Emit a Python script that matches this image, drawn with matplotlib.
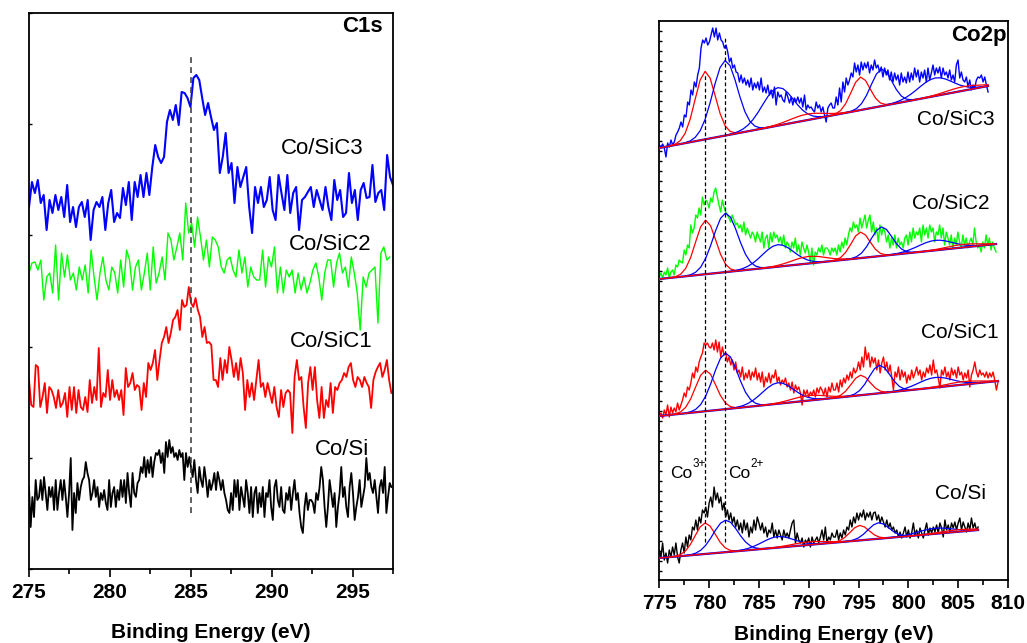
import numpy as np
import matplotlib
matplotlib.use('Agg')
import matplotlib.pyplot as plt

plt.rcParams['font.family'] = ['Liberation Sans', 'DejaVu Sans']

# ---------------------------------------------------------------- C1s panel
c1s_ev_range = [275.0, 297.5]
c1s_ref_ev = 285.0
c1s_ticks = [275, 280, 285, 290, 295]

c1s_sic3 = [362, 387, 376, 389, 366, 374, 339, 369, 356, 374,
            359, 372, 352, 384, 347, 362, 342, 362, 367, 352,
            369, 329, 359, 367, 362, 372, 339, 366, 379, 347,
            356, 351, 381, 364, 387, 349, 387, 372, 394, 372,
            396, 374, 402, 424, 412, 406, 412, 447, 459, 449,
            464, 444, 477, 476, 471, 462, 491, 494, 489, 471,
            454, 466, 452, 439, 446, 396, 412, 436, 396, 406,
            366, 402, 382, 392, 402, 362, 336, 382, 366, 382,
            362, 369, 392, 359, 349, 394, 376, 359, 394, 356,
            376, 382, 339, 369, 372, 377, 382, 362, 379, 369,
            359, 382, 362, 349, 389, 369, 379, 352, 356, 396,
            366, 379, 349, 379, 386, 371, 372, 404, 367, 376,
            379, 359, 414, 392, 384]

c1s_sic2 = [296, 306, 307, 299, 309, 269, 292, 296, 276, 324,
            269, 316, 292, 314, 289, 296, 279, 302, 289, 304,
            276, 319, 292, 269, 296, 312, 289, 279, 302, 296,
            276, 309, 282, 319, 309, 279, 302, 309, 279, 296,
            316, 279, 322, 286, 296, 312, 289, 336, 329, 309,
            322, 336, 309, 366, 336, 346, 322, 352, 332, 309,
            329, 302, 332, 329,
            322, 302, 296, 309, 312, 299, 292, 319, 296, 312,
            282, 302, 292, 289, 289, 319, 282, 312, 302, 322,
            276, 302, 276, 299, 292, 299, 276, 296, 279, 292,
            276, 286, 299, 306, 292, 269, 296, 309, 309, 282,
            306, 316, 296, 302, 282, 312, 296, 276, 239, 292,
            282, 296, 299, 302, 246, 316, 322, 309, 312]

c1s_sic1 = [189, 164, 162, 204, 202, 162, 172, 186, 156, 182,
            179, 172, 161, 179, 162, 166, 176, 152, 182, 159,
            182, 156, 179, 162, 159, 172, 157, 189, 166, 182,
            169, 221, 162, 176, 172, 199, 169, 189, 172, 179,
            169, 179, 154, 201, 182, 186, 196, 179, 184, 182,
            159, 186, 172, 206, 199, 206, 219, 189, 209, 226,
            232, 242, 226, 236, 249, 252, 259, 239, 269, 262,
            264, 282, 266, 262, 271, 259, 252, 232, 242, 226,
            227, 224, 189,
            189, 182, 211, 189, 209, 196, 222, 209, 192, 206,
            189, 211, 196, 159, 189, 172, 186, 169, 189, 209,
            182, 186, 172, 186, 176, 166, 182, 162, 152, 179,
            162, 176, 179, 176, 136, 192, 209, 189, 192, 162,
            141, 186, 202, 179, 202, 169, 151, 182, 151, 169,
            162, 186, 156, 182, 179, 186, 189, 196, 192, 202,
            206, 189, 182, 192, 189, 182, 192, 186, 182, 161,
            189, 197, 202, 206, 192, 199, 209, 189, 176]

c1s_si = [82, 42, 72, 52, 89, 69, 72, 89, 69, 92,
          76, 59, 82, 72, 82, 59, 89, 59, 76, 89,
          69, 89, 72, 52, 76, 111, 39, 76, 56, 86,
          69, 82, 89, 92, 107, 96, 89, 69, 76, 89,
          72, 82, 62, 76, 69, 79, 66, 59, 89, 62,
          76, 82, 62, 79, 69, 89, 72, 89, 66, 96,
          76, 62, 96, 76, 72, 86, 89, 102, 96, 112,
          92, 109, 96, 112, 92, 107, 116, 114, 119, 106,
          116, 96, 127, 112, 129, 116, 122, 112, 116, 109,
          119, 112, 116, 89, 116, 102, 112, 102, 92, 109,
          89, 76, 102, 89, 82, 102, 89, 72, 89, 79,
          86, 96, 79, 97, 89, 79, 89, 76, 69, 59,
          56, 76, 59, 89, 72, 89, 59, 82, 72, 62,
          89, 76, 56, 82, 52, 76, 82, 56, 76, 62,
          82, 52, 76, 72, 89, 62, 49, 82, 89, 69,
          62, 82, 59, 56, 76, 69, 82, 59, 76, 89,
          69, 76, 56, 42, 36, 62, 76, 59, 69, 69,
          66, 56, 76, 69, 82, 102, 89, 62, 42, 62,
          89, 76, 62, 76, 42, 62, 76, 102, 72, 82,
          62, 52, 82, 96, 76, 49, 62, 72, 89, 62,
          72, 82, 111, 89, 96, 82, 76, 89, 72, 56,
          82, 89, 76, 102, 56, 72, 86, 82]
c1s_si_end = 297.4

c1s_labels = ['Co/SiC3', 'Co/SiC2', 'Co/SiC1', 'Co/Si']
c1s_label_ev = [290.6, 291.05, 291.1, 292.7]
c1s_label_y = [415, 319, 222, 114]

# ---------------------------------------------------------------- Co2p panel
co2p_ticks = [775, 780, 785, 790, 795, 800, 805, 810]
co2p_ref_ev = [779.6, 781.6]

co2p_sic3 = [435, 433, 436, 432, 423, 437, 433, 440, 435, 438,
             445, 448, 452, 458, 453, 465, 463, 478, 475, 490,
             485, 498, 493, 505, 512, 532, 540, 537, 542, 535,
             538, 545, 552, 543, 552, 540, 547, 540, 538, 532,
             535, 528, 518, 522, 512, 515, 508, 507, 498, 505,
             497, 502, 495, 500, 493, 502, 490, 497, 492, 498,
             490, 502, 488, 493, 487, 495, 485, 490, 482, 493,
             475, 488, 483, 485, 480, 478, 488, 483, 477, 483,
             475, 482, 478, 483, 477, 482, 473, 485, 470, 475,
             472, 473, 470, 468, 478, 472, 475, 468, 473, 465,
             458, 472, 475, 477, 472,
             472, 483, 475, 492, 478, 498, 488, 502, 495, 500,
             507, 503, 517, 508, 515, 505, 518, 510, 517, 512,
             518, 507, 515, 510, 520, 512, 515, 508, 513, 503,
             512, 505, 510, 500, 508, 498, 507, 500, 505, 495,
             507, 498, 503, 497, 508, 498, 507, 500, 512, 503,
             510, 498, 508, 502, 510, 498, 512, 500, 507, 515,
             505, 512, 507, 513, 502, 512, 505, 508, 502, 510,
             500, 505, 498, 515, 520, 502, 508, 500, 498, 503,
             493, 500, 490, 495, 492, 500, 503, 502, 505, 498,
             503, 495, 488]
co2p_sic3_range = [775.0, 808.0]

co2p_sic2 = [303, 307, 302, 308, 305, 312, 302, 308, 310, 305,
             315, 313, 320, 318, 317, 330, 325, 335, 332, 355,
             347, 352, 365, 362, 372, 365, 383, 375, 380, 378,
             372, 382, 378, 388, 392, 383, 375, 368, 380, 373,
             368, 365, 362, 358, 365, 360, 355, 357, 352, 355,
             348, 358, 345, 352, 347, 342, 348, 345, 338, 348,
             343, 338, 348, 332, 342, 345, 332, 347, 338, 348,
             342, 345, 338, 343, 335, 345, 332, 338, 335, 328,
             338, 332, 342, 328, 335, 325, 338, 332, 327, 335,
             328, 318, 332, 315, 328, 325, 332, 328, 335, 325,
             332, 332, 330, 325, 332, 328,
             332, 325, 335, 328, 338, 332, 342, 335, 345, 352,
             348, 358, 352, 355, 348, 362, 352, 358, 365, 352,
             360, 365, 348, 358, 345, 352, 338, 355, 345, 352,
             348, 338, 345, 332, 342, 335, 345, 332, 342, 335,
             338, 332, 342, 345, 335, 348, 338, 352, 342, 348,
             345, 352, 338, 355, 345, 352, 342, 355, 348, 352,
             338, 348, 345, 355, 342, 352, 335, 348, 342, 335,
             345, 332, 342, 335, 348, 338, 332, 345, 335, 342,
             332, 338, 342, 335, 352, 338, 332, 335, 328, 338,
             332, 345, 335, 342, 330, 338, 332, 328]
co2p_sic2_range = [775.0, 808.8]

co2p_sic1 = [165, 167, 162, 170, 165, 175, 163, 173, 167, 172,
             168, 177, 170, 175, 180, 187, 183, 193, 190, 197,
             207, 202, 213, 208, 218, 223, 227, 237, 235, 237,
             233, 232, 237, 230, 240, 228, 238, 223, 233, 225,
             227, 218, 223, 215, 220, 210, 218, 207, 210, 203,
             213, 200, 207, 202, 210, 200, 208, 203, 212, 200,
             207, 198, 208, 193, 203, 198, 207, 197, 205, 202,
             210, 198, 203, 195, 200, 197, 202, 193, 197, 190,
             198, 187, 195, 190, 193, 187, 175, 190, 185, 190,
             183, 188, 185, 190, 183, 192, 187, 193, 190, 185,
             192, 183, 193, 188, 197, 190,
             190, 197, 188, 200, 193, 202, 197, 205, 200, 208,
             202, 212, 207, 210, 218, 210, 223, 213, 233, 220,
             227, 213, 223, 217, 222, 210, 220, 207, 217, 223,
             210, 218, 207, 215, 203, 190, 208, 203, 213, 200,
             210, 203, 208, 197, 205, 200, 210, 202, 207, 213,
             205, 210, 200, 208, 203, 212, 207, 215, 205, 220,
             207, 210, 202, 192, 210, 205, 213, 203, 208, 200,
             212, 205, 210, 202, 213, 205, 208, 200, 207, 202,
             210, 193, 205, 210, 218, 208, 203, 210, 205, 207,
             203, 208, 202, 207, 203, 208, 200, 190, 198]
co2p_sic1_range = [775.0, 809.0]

co2p_si = [30, 23, 37, 20, 27, 17, 30, 23, 33, 25,
           37, 23, 17, 30, 37, 27, 43, 33, 45, 40,
           53, 50, 60, 50, 63, 57, 70, 67, 73, 63,
           77, 83, 73, 93, 80, 87, 77, 83, 70, 77,
           63, 70, 60, 67, 57, 63, 53, 60, 50, 57,
           47, 60, 50, 57, 43, 53, 47, 60, 50, 63,
           57, 50, 57, 47, 53, 43, 50, 47, 57, 43,
           50, 42, 50, 45, 40, 50, 43, 47, 42, 50,
           57, 60, 37, 47, 40, 37, 42, 33, 40, 37,
           42, 33, 43, 37, 40, 43, 37, 43, 50, 40,
           53, 37, 43, 40, 47, 43,
           43, 50, 40, 47, 42, 50, 45, 53, 50, 60,
           53, 63, 57, 67, 60, 67, 63, 70, 60, 67,
           63, 68, 60, 67, 68, 60, 65, 57, 63, 58,
           53, 60, 52, 57, 50, 53, 47, 50, 43, 48,
           42, 47, 53, 43, 50, 42, 47, 57, 45, 50,
           42, 52, 47, 42, 50, 57, 45, 52, 47, 53,
           48, 55, 47, 57, 52, 43, 60, 50, 55, 48,
           57, 52, 58, 50, 57, 62, 50, 58, 53, 48,
           57, 50, 62, 52, 57, 50, 53]
co2p_si_range = [775.0, 807.0]

# linear backgrounds (intensity at the two ends of each spectrum)
bg_sic3 = [432, 494]
bg_sic2 = [301, 336]
bg_sic1 = [164, 199]
bg_si = [22, 50]

# fitted component profiles, read on a 0.5 eV step (peak = 1)
prof_a = [0.003, 0.013, 0.049, 0.146, 0.339, 0.618, 0.887, 1.0, 0.887, 0.618, 0.339, 0.146, 0.049, 0.013, 0.003]
prof_b = [0.005, 0.017, 0.051, 0.127, 0.267, 0.476, 0.719, 0.921, 1.0, 0.921, 0.719, 0.476, 0.267, 0.127, 0.051, 0.017, 0.005]
prof_c = [0.006, 0.016, 0.039, 0.083, 0.161, 0.281, 0.444, 0.634, 0.816, 0.951, 1.0, 0.951, 0.816, 0.634, 0.444, 0.281, 0.161, 0.083, 0.039, 0.016, 0.006]
prof_d = [0.013, 0.030, 0.063, 0.12, 0.211, 0.339, 0.5, 0.678, 0.841, 0.958, 1.0, 0.958, 0.841, 0.678, 0.5, 0.339, 0.211, 0.12, 0.063, 0.030, 0.013]
prof_e = [0.006, 0.028, 0.101, 0.276, 0.564, 0.867, 1.0, 0.867, 0.564, 0.276, 0.101, 0.028, 0.006]
prof_f = [0.004, 0.018, 0.062, 0.169, 0.368, 0.641, 0.895, 1.0, 0.895, 0.641, 0.368, 0.169, 0.062, 0.018, 0.004]

peak_profiles = [prof_a, prof_b, prof_c, prof_d, prof_e, prof_f, prof_d, prof_d]
peak_colors = ['#ff0000', '#0000ff', '#0000ff', '#ff0000', '#ff0000', '#0000ff', '#0000ff', '#ff0000']

pk_ev_sic3 = [779.6, 781.6, 786.9, 789.8, 795.2, 797.3, 802.7, 805.5]
pk_h_sic3 = [68, 75, 38, 6, 33, 37, 18, 4]
pk_ev_sic2 = [779.65, 781.65, 786.9, 790.0, 795.2, 797.3, 802.7, 805.5]
pk_h_sic2 = [54, 59, 22, 7, 26, 29, 10, 3]
pk_ev_sic1 = [779.65, 781.65, 786.9, 790.0, 795.2, 797.1, 802.7, 805.5]
pk_h_sic1 = [41, 56, 21, 5, 20, 28, 10, 3]
pk_ev_si = [779.6, 781.65, 786.9, 790.0, 795.1, 797.0, 802.7, 805.0]
pk_h_si = [31, 32, 11, 3, 15, 16, 5.5, 2]

co2p_labels = ['Co/SiC3', 'Co/SiC2', 'Co/SiC1', 'Co/Si']
co2p_label_ev = [800.84, 800.34, 801.25, 802.65]
co2p_label_y = [455, 371, 242, 81]

# ---------------------------------------------------------------- figure
W, H = 1027, 643
fig = plt.figure(figsize=(W / 100, H / 100), dpi=100)

def px_axes(l, t, r, b):
    return fig.add_axes([l / W, 1 - b / H, (r - l) / W, (b - t) / H])

BOLD = dict(fontweight='bold')

# ---------------- left: C1s
ax1 = px_axes(29, 13, 393, 569)
series1 = [(c1s_sic3, '#0000ff', 1.5, c1s_ev_range[1]),
           (c1s_sic2, '#00ff00', 1.0, 297.3),
           (c1s_sic1, '#ff0000', 1.3, c1s_ev_range[1] - 0.1),
           (c1s_si, '#000000', 1.3, c1s_si_end)]
for vals, col, lw, end in series1:
    ev = np.linspace(c1s_ev_range[0], end, len(vals))
    ax1.plot(ev, vals, color=col, lw=lw, zorder=2)
ax1.plot([c1s_ref_ev, c1s_ref_ev], [56, 514], color='#444444', lw=1.2,
         ls=(0, (3.5, 2.5)), zorder=3)
for lab, xe, ye in zip(c1s_labels, c1s_label_ev, c1s_label_y):
    ax1.text(xe, ye, lab, fontsize=16, ha='left', va='baseline')
ax1.text(296.85, 537, 'C1s', fontsize=16, ha='right', va='baseline', **BOLD)
ax1.set_xlim(c1s_ev_range)
ax1.set_ylim(0, 556)
ax1.set_xticks(c1s_ticks)
ax1.set_xticks([277.5, 282.5, 287.5, 292.5, 297.5], minor=True)
ax1.set_yticks([0, 111, 222, 334, 445, 556])
ax1.set_yticklabels([])
ax1.tick_params(axis='x', which='major', direction='out', length=6, width=1.2,
                labelsize=15, pad=4)
ax1.tick_params(axis='x', which='minor', direction='out', length=3.5, width=1.2)
ax1.tick_params(axis='y', direction='in', length=2.5, width=1.0)
ax1.set_xlabel('Binding Energy (eV)', fontsize=15, fontweight='bold')
ax1.xaxis.set_label_coords(0.5, -0.097)

# ---------------- right: Co2p
ax2 = px_axes(659.3, 21, 1008, 580)
spectra = [(co2p_sic3, co2p_sic3_range, '#0000ff', bg_sic3, pk_ev_sic3, pk_h_sic3),
           (co2p_sic2, co2p_sic2_range, '#00ff00', bg_sic2, pk_ev_sic2, pk_h_sic2),
           (co2p_sic1, co2p_sic1_range, '#ff0000', bg_sic1, pk_ev_sic1, pk_h_sic1),
           (co2p_si, co2p_si_range, '#000000', bg_si, pk_ev_si, pk_h_si)]
for vals, rng, col, bg, pev, ph in spectra:
    ev = np.linspace(rng[0], rng[1], len(vals))
    ax2.plot(ev, vals, color=col, lw=1.0, zorder=2)
    ax2.plot(rng, bg, color='#0000ff', lw=1.6, zorder=3)
    ax2.plot(rng, bg, color='#ff0000', lw=1.0, zorder=4)
    for c, h, prof, pc in zip(pev, ph, peak_profiles, peak_colors):
        prof = np.asarray(prof)
        n = len(prof)
        x = c + 0.5 * (np.arange(n) - (n - 1) / 2)
        keep = (x >= rng[0]) & (x <= rng[1])
        base = np.interp(x, rng, bg)
        ax2.plot(x[keep], (base + h * prof)[keep], color=pc, lw=0.9, zorder=3)

ax2.plot([co2p_ref_ev[0]] * 2, [38, 505], color='black', lw=0.9, ls=(0, (3, 2)), zorder=5)
ax2.plot([co2p_ref_ev[1]] * 2, [38, 543], color='black', lw=0.9, ls=(0, (3, 2)), zorder=5)
for lab, xe, ye in zip(co2p_labels, co2p_label_ev, co2p_label_y):
    ax2.text(xe, ye, lab, fontsize=15, ha='left', va='baseline')
ax2.text(809.85, 539, 'Co2p', fontsize=16, ha='right', va='baseline', **BOLD)
ax2.text(776.07, 102, 'Co', fontsize=12.5, ha='left', va='baseline')
ax2.text(778.3, 113, '3+', fontsize=8.5, ha='left', va='baseline')
ax2.text(781.92, 102, 'Co', fontsize=12.5, ha='left', va='baseline')
ax2.text(784.15, 113, '2+', fontsize=8.5, ha='left', va='baseline')
ax2.set_xlim(775, 810)
ax2.set_ylim(0, 559)
ax2.set_xticks(co2p_ticks)
ax2.set_xticks(np.arange(777.5, 810, 5), minor=True)
ax2.set_yticks(np.arange(9, 559, 10))
ax2.set_yticklabels([])
ax2.tick_params(axis='x', which='major', direction='out', length=6, width=1.2,
                labelsize=15, pad=4)
ax2.tick_params(axis='x', which='minor', direction='out', length=3.5, width=1.2)
ax2.tick_params(axis='y', direction='in', length=2.5, width=1.0)
ax2.set_xlabel('Binding Energy (eV)', fontsize=15, fontweight='bold')
ax2.xaxis.set_label_coords(0.5, -0.08)

for ax in (ax1, ax2):
    for s in ax.spines.values():
        s.set_linewidth(1.3)
    for t in ax.get_xticklabels():
        t.set_fontweight('bold')

fig.savefig('out.png', dpi=100)
